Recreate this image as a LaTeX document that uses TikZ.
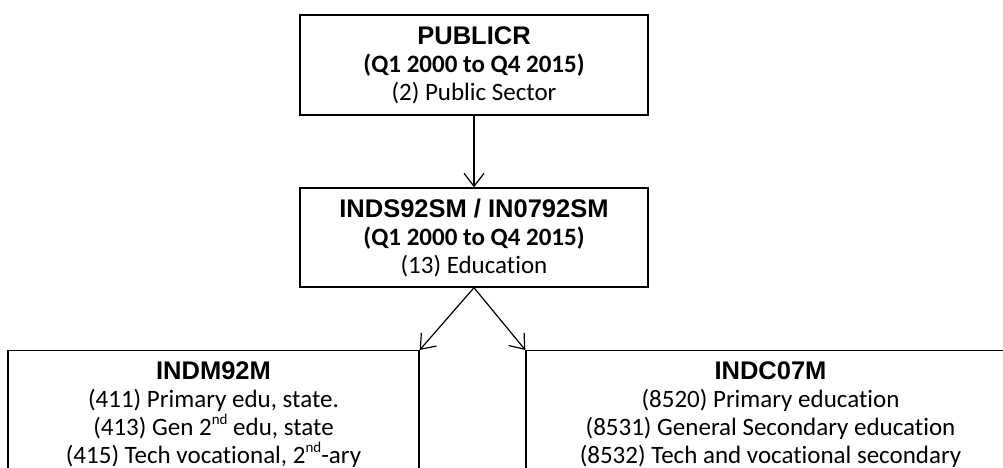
\documentclass[tikz,border=0pt]{standalone}
\usepackage{fontspec}
\setmainfont{Carlito}[Ligatures=NoCommon]
\newfontfamily\arialfont{Liberation Sans}
\usetikzlibrary{arrows.meta}
\newcommand{\ttl}[1]{{\arialfont\bfseries\fontsize{25.5}{27.5}\selectfont #1}}
\newcommand{\sups}[1]{\raisebox{0.9ex}{\fontsize{15}{15}\selectfont #1}}
\begin{document}
\begin{tikzpicture}[x=1pt,y=-1pt,
  box/.style={draw, line width=1.4pt, align=center, inner sep=0pt,
    font=\fontsize{25}{28}\selectfont},
  lowbox/.style={box, anchor=north, inner ysep=11pt},
  conn/.style={line width=1.2pt, -{Straight Barb[length=13pt,width=20pt,line width=1.2pt]}}
]
\useasboundingbox (0,0) rectangle (1003,468);
\clip (0,0) rectangle (1003,468);
\node[box, minimum width=348pt, minimum height=100pt] (pub) at (474,65)
  {\ttl{PUBLICR}\\\textbf{(Q1 2000 to Q4 2015)}\\(2) Public Sector};
\node[box, minimum width=348pt, minimum height=99pt] (edu) at (474,237.5)
  {\ttl{INDS92SM / IN0792SM}\\\textbf{(Q1 2000 to Q4 2015)}\\(13) Education};
\node[lowbox, minimum width=411pt] (m92) at (213.5,350)
  {\ttl{INDM92M}\\(411) Primary edu, state.\\(413) Gen 2\sups{nd} edu, state\\(415) Tech vocational, 2\sups{nd}-ary\\[80pt]\mbox{}};
\node[lowbox, minimum width=489pt] (c07) at (770.5,350)
  {\ttl{INDC07M}\\(8520) Primary education\\(8531) General Secondary education\\(8532) Tech and vocational secondary\\[80pt]\mbox{}};
\draw[conn] (pub.south) -- (edu.north);
\draw[conn] (edu.south) -- (m92.north east);
\draw[conn] (edu.south) -- (c07.north west);
\end{tikzpicture}
\end{document}
